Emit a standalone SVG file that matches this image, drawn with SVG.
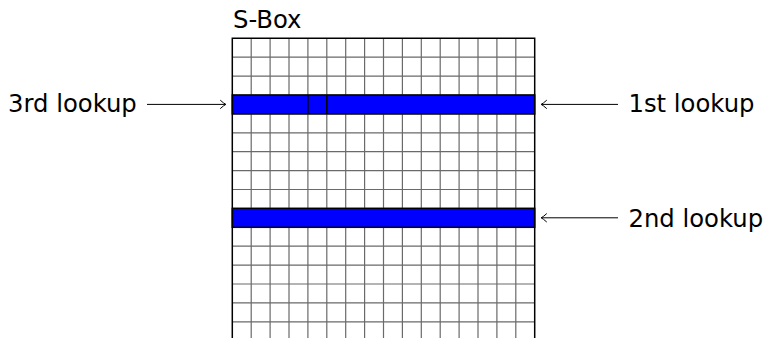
<svg xmlns="http://www.w3.org/2000/svg" width="765" height="338" viewBox="0 0 765 338">
<style>
.lbl{font-family:"DejaVu Sans","Liberation Sans",sans-serif;font-size:24.3px;fill:#000}
.grid{stroke:#6a6a6a;stroke-width:1.2;fill:none}
.frame{stroke:#000;stroke-width:1.5;fill:none}
.hl{fill:#0000ff;stroke:#000;stroke-width:1.5}
.arr{stroke:#000;stroke-width:1;fill:none}
</style>
<defs>
<marker id="hd" markerUnits="userSpaceOnUse" markerWidth="12" markerHeight="12" refX="0" refY="0" viewBox="-8 -6 10 12" orient="auto">
<path d="M-5,-4 Q-1.5,-0.8 0.4,0 Q-1.5,0.8 -5,4" stroke="#000" stroke-width="1" fill="none" stroke-linecap="round"/>
</marker>
</defs>
<g id="sbox">
<rect x="0" y="0" width="765" height="338" fill="#fff"/>
<g class="grid">
<path d="M251.2,38.3V338M270.1,38.3V338M289,38.3V338M307.9,38.3V338M326.8,38.3V338M345.7,38.3V338M364.6,38.3V338M383.5,38.3V338M402.4,38.3V338M421.3,38.3V338M440.2,38.3V338M459.1,38.3V338M478,38.3V338M496.9,38.3V338M515.8,38.3V338"/>
<path d="M232.3,57.2H534.7M232.3,76.1H534.7M232.3,95H534.7M232.3,113.9H534.7M232.3,132.8H534.7M232.3,151.7H534.7M232.3,170.6H534.7M232.3,189.5H534.7M232.3,208.4H534.7M232.3,227.3H534.7M232.3,246.2H534.7M232.3,265.1H534.7M232.3,284H534.7M232.3,302.9H534.7M232.3,321.8H534.7"/>
</g>
<rect class="hl" x="232.3" y="95" width="302.4" height="18.9"/>
<path d="M307.9,95V113.9M326.8,95V113.9" stroke="#000" stroke-width="1.5"/>
<rect class="hl" x="232.3" y="208.4" width="302.4" height="18.9"/>
<path class="frame" d="M232.3,339V38.3H534.7V339"/>
<text class="lbl" x="233" y="27.7">S-Box</text>
</g>
<g id="connectors">
<line class="arr" x1="147" y1="104.4" x2="225.5" y2="104.4" marker-end="url(#hd)"/>
<line class="arr" x1="618" y1="104.4" x2="541.5" y2="104.4" marker-end="url(#hd)"/>
<line class="arr" x1="618" y1="217.8" x2="541.5" y2="217.8" marker-end="url(#hd)"/>
</g>
<g id="label-3rd"><text class="lbl" x="8" y="111.5">3rd lookup</text></g>
<g id="label-1st"><text class="lbl" x="628.5" y="111.5">1st lookup</text></g>
<g id="label-2nd"><text class="lbl" x="628.5" y="226.5">2nd lookup</text></g>
</svg>
